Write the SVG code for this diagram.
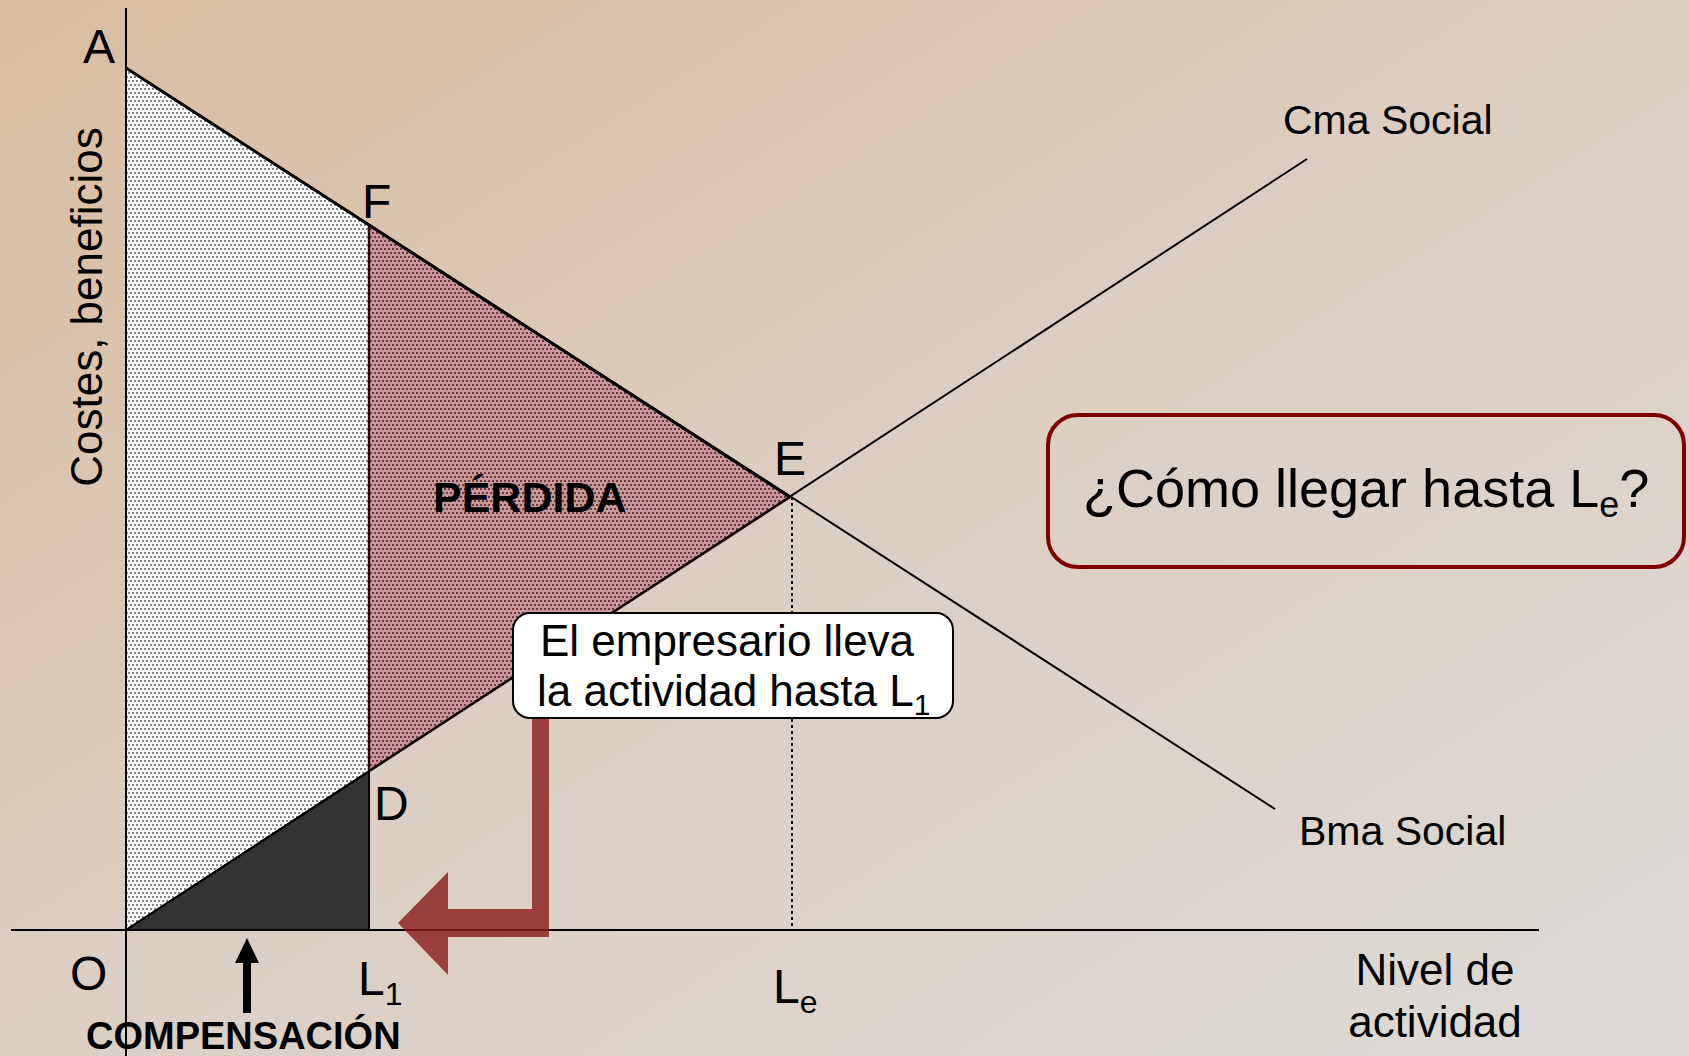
<svg xmlns="http://www.w3.org/2000/svg" width="1689" height="1056" viewBox="0 0 1689 1056">
<defs>
<linearGradient id="bg" x1="0" y1="0" x2="1" y2="1">
<stop offset="0" stop-color="#d8bc9f"/>
<stop offset="0.45" stop-color="#dccdbf"/>
<stop offset="1" stop-color="#dddad7"/>
</linearGradient>
<pattern id="dotsLight" width="4" height="8" patternUnits="userSpaceOnUse">
<rect width="4" height="8" fill="#ffffff"/>
<rect x="0" y="0" width="2" height="2" fill="#858585"/>
<rect x="2" y="4" width="2" height="2" fill="#858585"/>
</pattern>
<pattern id="dotsPink" width="4" height="8" patternUnits="userSpaceOnUse">
<rect width="4" height="8" fill="#c99898"/>
<rect x="0" y="0" width="2" height="2" fill="#6e3a3d"/>
<rect x="2" y="4" width="2" height="2" fill="#6e3a3d"/>
</pattern>
<style>
.t{font-family:"Liberation Sans",Arial,sans-serif;fill:#000}
.lbl{font-size:48px}
.crv{font-size:41px}
.b{font-weight:bold}
.ln{stroke:#000;stroke-width:2;fill:none}
</style>
</defs>
<rect width="1689" height="1056" fill="url(#bg)"/>

<g id="areas">
<polygon id="area-light" points="126,68 369,225 369,930 126,930" fill="url(#dotsLight)"/>
<polygon id="area-perdida" points="369,225 790,497 369,771" fill="url(#dotsPink)" stroke="#4a0a0a" stroke-width="2.5"/>
<polygon id="area-compensacion" points="126,930 369,771 369,930" fill="#333333" stroke="#000" stroke-width="2"/>
<line x1="369" y1="225" x2="369" y2="771" stroke="#000" stroke-width="2" stroke-dasharray="2,2"/>
</g>

<g id="connectors">
<line class="ln" x1="126" y1="8" x2="126" y2="1056"/>
<line class="ln" x1="11" y1="930" x2="1539" y2="930"/>
<line class="ln" x1="126" y1="68" x2="1275" y2="809"/>
<line x1="126" y1="68" x2="790" y2="497" stroke="#000" stroke-width="3"/>
<line class="ln" x1="126" y1="930" x2="1307" y2="159"/>
<line x1="792" y1="497" x2="792" y2="930" stroke="#000" stroke-width="2" stroke-dasharray="3,3"/>
<path id="arrow-red" d="M532,700 L532,909 L448,909 L448,872 L398,923 L448,975 L448,937 L549,937 L549,700 Z" fill="#8b1a1a" fill-opacity="0.8"/>
<path id="arrow-up" d="M243,1013 L243,963 L235,963 L247,938 L259,963 L251,963 L251,1013 Z" fill="#000"/>
</g>

<g id="axis-label">
<text class="t" font-size="44" transform="translate(102,307) rotate(-90)" text-anchor="middle">Costes, beneficios</text>
</g>

<g id="point-labels">
<text class="t lbl" x="83" y="63">A</text>
<text class="t lbl" x="362" y="218">F</text>
<text class="t lbl" x="774" y="475">E</text>
<text class="t lbl" x="374" y="820">D</text>
<text class="t lbl" x="70" y="990">O</text>
<text class="t lbl" x="358" y="995">L<tspan font-size="32" dy="10">1</tspan></text>
<text class="t lbl" x="773" y="1003">L<tspan font-size="32" dy="10">e</tspan></text>
</g>

<g id="curve-labels">
<text class="t crv" x="1283" y="134">Cma Social</text>
<text class="t crv" x="1299" y="845">Bma Social</text>
<text class="t" font-size="44" x="1435" y="985" text-anchor="middle">Nivel de</text>
<text class="t" font-size="44" x="1435" y="1037" text-anchor="middle">actividad</text>
</g>

<g id="perdida-label">
<text class="t b" font-size="43" x="433" y="512">PÉRDIDA</text>
</g>

<g id="compensacion-label">
<text class="t b" font-size="38" x="86" y="1049">COMPENSACIÓN</text>
</g>

<g id="box-empresario">
<rect x="513" y="613" width="440" height="105" rx="17" ry="17" fill="#ffffff" stroke="#000" stroke-width="2"/>
<text class="t" font-size="44" x="727" y="656" text-anchor="middle">El empresario lleva</text>
<text class="t" font-size="44" x="537" y="706">la actividad hasta L<tspan font-size="30" dy="9">1</tspan></text>
</g>

<g id="box-pregunta">
<rect x="1048" y="415" width="636" height="152" rx="30" ry="30" fill="none" stroke="#800000" stroke-width="4"/>
<text class="t" font-size="54" x="1083" y="507">¿Cómo llegar hasta L<tspan font-size="36" dy="10">e</tspan><tspan dy="-10">?</tspan></text>
</g>
</svg>
